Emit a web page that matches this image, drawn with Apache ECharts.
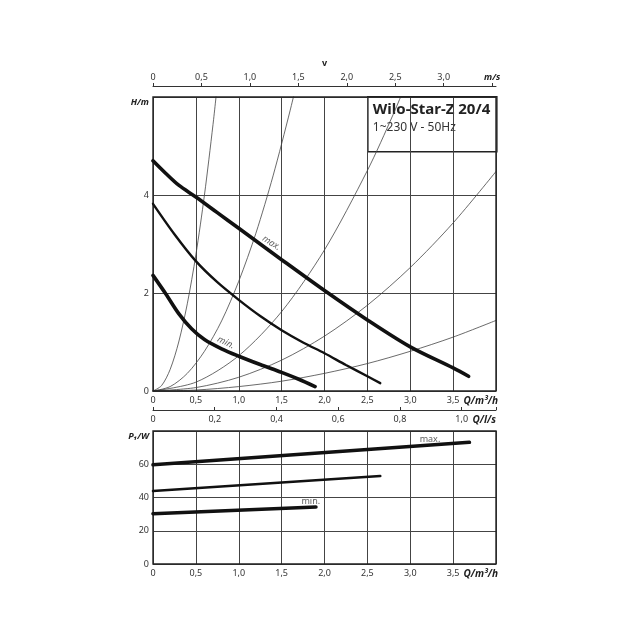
<!DOCTYPE html>
<html><head><meta charset="utf-8">
<script src="https://cdn.jsdelivr.net/npm/echarts@6/dist/echarts.min.js"></script>
<style>html,body{margin:0;padding:0;background:#fff}#c{width:640px;height:640px}</style>
</head><body><div id="c"></div>
<script>
// ---- pump curves H(Q) ----
const maxQ = [0, 0.15, 0.3, 0.5, 0.75, 1.0, 1.5, 2.0, 2.5, 3.0, 3.5, 3.68];
const maxH = [4.70, 4.44, 4.20, 3.96, 3.64, 3.32, 2.68, 2.05, 1.45, 0.90, 0.47, 0.30];
const midQ = [0, 0.25, 0.5, 0.75, 1.0, 1.25, 1.5, 1.75, 2.0, 2.25, 2.5, 2.65];
const midH = [3.82, 3.20, 2.65, 2.22, 1.86, 1.53, 1.24, 0.99, 0.77, 0.53, 0.30, 0.16];
const minQ = [0, 0.15, 0.3, 0.45, 0.6, 0.8, 1.0, 1.25, 1.5, 1.7, 1.89];
const minH = [2.36, 1.98, 1.58, 1.27, 1.05, 0.86, 0.71, 0.54, 0.38, 0.24, 0.09];
// ---- thin system curves ----
const sys1Q = [0, 0.1, 0.2, 0.3, 0.4, 0.5, 0.6, 0.7, 0.75];
const sys1H = [0, 0.11, 0.44, 1.0, 1.78, 2.78, 4.0, 5.44, 6.25];
const sys2Q = [0, 0.2, 0.4, 0.6, 0.8, 1.0, 1.2, 1.4, 1.6, 1.7];
const sys2H = [0, 0.09, 0.36, 0.81, 1.43, 2.24, 3.22, 4.39, 5.73, 6.47];
const sys3Q = [0, 0.5, 1.0, 1.5, 2.0, 2.5, 2.8, 3.0];
const sys3H = [0, 0.18, 0.72, 1.62, 2.88, 4.5, 5.64, 6.48];
const sys4Q = [0, 0.5, 1.0, 1.5, 2.0, 2.5, 3.0, 3.5, 4.0];
const sys4H = [0, 0.07, 0.28, 0.63, 1.12, 1.75, 2.52, 3.43, 4.48];
const sys5Q = [0, 0.5, 1.0, 1.5, 2.0, 2.5, 3.0, 3.5, 4.0];
const sys5H = [0, 0.02, 0.09, 0.20, 0.36, 0.56, 0.81, 1.10, 1.44];
// ---- power curves P1(Q) ----
const pMaxQ = [0, 3.69];
const pMaxP = [59.7, 73.2];
const pMidQ = [0, 2.65];
const pMidP = [43.9, 52.9];
const pMinQ = [0, 1.9];
const pMinP = [30.2, 34.3];
// ---- annotations ----
const upperLabels = [{t: 'max.', q: 1.38, h: 3.02, r: -32}, {t: 'min.', q: 0.85, h: 0.99, r: -26}];
const lowerLabels = [{t: 'max.', q: 3.23, p: 74.8}, {t: 'min.', q: 1.84, p: 37.9}];
// ---- axes ----
const qMax = 4, qStep = 0.5;
const hMax = 6, hStep = 2;
const pMax = 80, pStep = 20;
const vMax = 3.54, vStep = 0.5;
const vTicks = [0, 0.5, 1.0, 1.5, 2.0, 2.5, 3.0, 3.5];
const lsMax = 4 / 3.6, lsStep = 0.2;
const titleLine1 = 'Wilo-Star-Z 20/4';
const titleLine2 = '1~230 V - 50Hz';

const FONT = "'Noto Sans', 'DejaVu Sans', sans-serif";
const comma = (v, step) => {
  if (Math.abs(v / step - Math.round(v / step)) > 1e-6) return '';
  if (v === 0) return '0';
  return v.toFixed(1).replace('.', ',');
};
const zip = (a, b) => a.map((x, i) => [x, b[i]]);
const lbl = {fontFamily: FONT, fontSize: 9, color: '#333'};
const gridLine = {show: true, lineStyle: {color: '#444', width: 1}};
const nameRich = {b: {fontFamily: FONT, fontSize: 10, fontWeight: 'bold', fontStyle: 'italic', color: '#222'}};

const chart = echarts.init(document.getElementById('c'), null, {renderer: 'canvas'});
const curve = (name, q, h, w, xi, yi, thin) => ({
  name, type: 'line', xAxisIndex: xi, yAxisIndex: yi, data: zip(q, h),
  showSymbol: false, symbol: 'none', smooth: 0.3, clip: true,
  lineStyle: {color: thin ? '#444' : '#111', width: w, cap: 'round'}, z: thin ? 2 : 4, silent: true
});
const series = [
  curve('s1', sys1Q, sys1H, 0.8, 0, 0, true),
  curve('s2', sys2Q, sys2H, 0.8, 0, 0, true),
  curve('s3', sys3Q, sys3H, 0.8, 0, 0, true),
  curve('s4', sys4Q, sys4H, 0.8, 0, 0, true),
  curve('s5', sys5Q, sys5H, 0.8, 0, 0, true),
  curve('max', maxQ, maxH, 3.6, 0, 0),
  curve('mid', midQ, midH, 2.4, 0, 0),
  curve('min', minQ, minH, 3.6, 0, 0),
  curve('pmax', pMaxQ, pMaxP, 3.6, 3, 1),
  curve('pmid', pMidQ, pMidP, 2.6, 3, 1),
  curve('pmin', pMinQ, pMinP, 3.6, 3, 1),
  {type: 'scatter', xAxisIndex: 0, yAxisIndex: 0, symbolSize: 0, silent: true, z: 6,
    data: upperLabels.map(d => ({value: [d.q, d.h], label: {rotate: d.r, formatter: d.t}})),
    label: {show: true, position: 'inside', fontFamily: FONT, fontSize: 9, fontStyle: 'italic', color: '#333'}},
  {type: 'scatter', xAxisIndex: 3, yAxisIndex: 1, symbolSize: 0, silent: true, z: 6,
    data: lowerLabels.map(d => ({value: [d.q, d.p], label: {formatter: d.t}})),
    label: {show: true, position: 'inside', fontFamily: FONT, fontSize: 9, color: '#333'}}
];

const qAxis = (gi) => ({
  type: 'value', gridIndex: gi, position: 'bottom', min: 0, max: qMax, interval: qStep,
  axisLine: {show: false}, axisTick: {show: false}, splitLine: gridLine,
  axisLabel: Object.assign({margin: 5, formatter: v => (v >= qMax ? '' : comma(v, qStep))}, lbl),
  name: '{b|Q}{n|/m³/h}', nameLocation: 'end', nameGap: 0,
  nameTextStyle: {align: 'right', verticalAlign: 'top', padding: [5, 0, 0, 0],
    rich: {b: nameRich.b, n: {fontFamily: FONT, fontSize: 10, fontWeight: 'bold', fontStyle: 'italic', color: '#222'}}}
});

const option = {
  animation: false,
  backgroundColor: '#fff',
  grid: [
    {left: 153, top: 97, width: 343, height: 294, show: true, borderColor: '#222', borderWidth: 1.4, backgroundColor: 'transparent', z: 3},
    {left: 153, top: 431, width: 343, height: 133, show: true, borderColor: '#222', borderWidth: 1.4, backgroundColor: 'transparent', z: 3}
  ],
  xAxis: [
    qAxis(0),
    {type: 'value', gridIndex: 0, position: 'top', offset: 11, min: 0, max: vMax, interval: vStep,
      axisLine: {show: true, lineStyle: {color: '#333', width: 1}},
      axisTick: {show: true, length: 3, customValues: vTicks, lineStyle: {color: '#333'}}, splitLine: {show: false},
      axisLabel: Object.assign({margin: 4, customValues: vTicks,
        formatter: v => (Math.abs(v - 3.5) < 1e-6 ? '{u|m/s}' : comma(v, vStep)),
        rich: {u: {fontFamily: FONT, fontSize: 9, fontWeight: 'bold', fontStyle: 'italic', color: '#222'}}}, lbl),
      name: 'v', nameLocation: 'middle', nameGap: 18,
      nameTextStyle: {fontFamily: FONT, fontSize: 9, fontWeight: 'bold', color: '#222'}},
    {type: 'value', gridIndex: 0, position: 'bottom', offset: 19, min: 0, max: lsMax, interval: lsStep,
      axisLine: {show: true, lineStyle: {color: '#333', width: 1}},
      axisTick: {show: true, length: 3, inside: true, lineStyle: {color: '#333'}}, splitLine: {show: false},
      axisLabel: Object.assign({margin: 5, formatter: v => (v >= lsMax - 1e-6 ? '' : comma(v, lsStep))}, lbl),
      name: '{b|Q}{n|/l/s}', nameLocation: 'end', nameGap: 0,
      nameTextStyle: {align: 'right', verticalAlign: 'top', padding: [5, 0, 0, 0],
        rich: {b: nameRich.b, n: {fontFamily: FONT, fontSize: 10, fontWeight: 'bold', fontStyle: 'italic', color: '#222'}}}},
    qAxis(1)
  ],
  yAxis: [
    {type: 'value', gridIndex: 0, min: 0, max: hMax, interval: hStep,
      axisLine: {show: false}, axisTick: {show: false}, splitLine: gridLine,
      axisLabel: Object.assign({margin: 4, formatter: v => (v >= hMax ? '{u|H/m}' : String(v)),
        rich: {u: {fontFamily: FONT, fontSize: 9, fontWeight: 'bold', fontStyle: 'italic', color: '#222', padding: [11, 0, 0, 0]}}}, lbl)},
    {type: 'value', gridIndex: 1, min: 0, max: pMax, interval: pStep,
      axisLine: {show: false}, axisTick: {show: false}, splitLine: gridLine,
      axisLabel: Object.assign({margin: 4, formatter: v => (v >= pMax ? '{u|P₁/W}' : String(v)),
        rich: {u: {fontFamily: FONT, fontSize: 9, fontWeight: 'bold', fontStyle: 'italic', color: '#222', padding: [11, 0, 0, 0]}}}, lbl)}
  ],
  graphic: [
    {type: 'group', left: 367, top: 96, z: 100, children: [
      {type: 'rect', shape: {x: 0, y: 0, width: 129, height: 55}, style: {fill: '#fff', stroke: '#222', lineWidth: 1.6}},
      {type: 'text', x: 5, y: 5, style: {text: titleLine1, fontFamily: FONT, fontSize: 15, fontWeight: 'bold', fill: '#222'}},
      {type: 'text', x: 5, y: 25, style: {text: titleLine2, fontFamily: FONT, fontSize: 12, fill: '#333'}}
    ]}
  ],
  series
};
chart.setOption(option);
</script></body></html>
